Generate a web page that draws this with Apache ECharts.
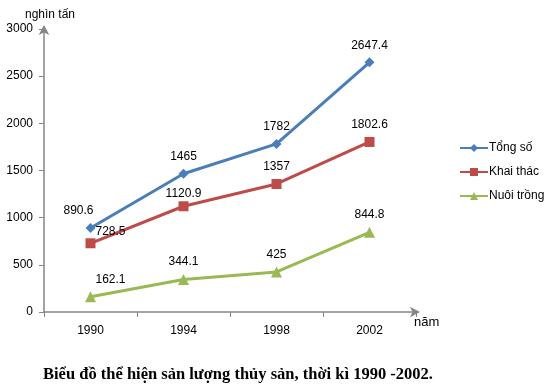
<!DOCTYPE html>
<html><head><meta charset="utf-8">
<script src="https://cdn.jsdelivr.net/npm/echarts@6/dist/echarts.min.js"></script>
<style>html,body{margin:0;padding:0;background:#fff}#c{width:545px;height:389px}</style>
</head><body><div id="c"></div>
<script>
const years = ['1990','1994','1998','2002'];
const tongSo = [890.6, 1465, 1782, 2647.4];
const khaiThac = [728.5, 1120.9, 1357, 1802.6];
const nuoiTrong = [162.1, 344.1, 425, 844.8];
const seriesNames = ['Tổng số','Khai thác','Nuôi trồng'];

const font = '"Liberation Sans", Arial, sans-serif';
const chart = echarts.init(document.getElementById('c'));
const lbl = () => ({
  show: true, position: 'top', distance: 6, color: '#000', fontSize: 12, fontFamily: font
});
function mk(vals, offs) {
  return vals.map((v, i) => ({ value: v, label: { offset: offs[i] } }));
}
chart.setOption({
  animation: false,
  grid: { left: 44, right: 129, top: 29, bottom: 77 },
  legend: {
    orient: 'vertical', left: 454, top: 137, itemGap: 12, itemWidth: 28, itemHeight: 10,
    textStyle: { fontSize: 12, fontFamily: font, color: '#000', padding: [0,0,0,-4] },
    data: seriesNames
  },
  xAxis: {
    type: 'category', data: years, boundaryGap: true,
    axisLine: { lineStyle: { color: '#868686', width: 1.5 }, symbol: ['none','arrow'], symbolSize: [8, 10], symbolOffset: [0, 4] },
    axisTick: { show: true, length: 5, lineStyle: { color: '#868686' } },
    axisLabel: { color: '#000', fontSize: 12, fontFamily: font, margin: 13 },
    name: 'năm', nameLocation: 'end', nameGap: 0,
    nameTextStyle: { color: '#000', fontSize: 13, fontFamily: font, align: 'left', verticalAlign: 'top', padding: [4, 0, 0, -2] }
  },
  yAxis: {
    type: 'value', min: 0, max: 3000, interval: 500,
    axisLine: { show: true, lineStyle: { color: '#868686', width: 1.5 }, symbol: ['none','arrow'], symbolSize: [8, 10], symbolOffset: [0, 4] },
    axisTick: { show: true, length: 5, lineStyle: { color: '#868686' } },
    splitLine: { show: false },
    axisLabel: { color: '#000', fontSize: 12, fontFamily: font, margin: 11, formatter: (v) => String(v) },
    name: 'nghìn tấn', nameLocation: 'end', nameGap: 8,
    nameTextStyle: { color: '#000', fontSize: 12, fontFamily: font, align: 'left', padding: [0, 0, 0, -19] }
  },
  series: [
    { name: seriesNames[0], type: 'line', data: mk(tongSo, [[-12,0],[0,0],[0,0],[0,0]]),
      symbol: 'diamond', symbolSize: 10, color: '#4A7EBB', lineStyle: { width: 3 },
      label: lbl() },
    { name: seriesNames[1], type: 'line', data: mk(khaiThac, [[20,5],[0,4],[0,0],[0,0]]),
      symbol: 'rect', symbolSize: 10, color: '#BE4B48', lineStyle: { width: 3 },
      label: lbl() },
    { name: seriesNames[2], type: 'line', data: mk(nuoiTrong, [[20,0],[0,0],[0,0],[0,0]]),
      symbol: 'triangle', symbolSize: 11, color: '#98B954', lineStyle: { width: 3 },
      label: lbl() }
  ],
  graphic: [{
    type: 'text', left: 43, top: 366,
    style: { text: 'Biểu đồ thể hiện sản lượng thủy sản, thời kì 1990 -2002.', fontFamily: '"Liberation Serif", "Times New Roman", serif', fontWeight: 'bold', fontSize: 16.5, fill: '#000' }
  }]
});
</script></body></html>
